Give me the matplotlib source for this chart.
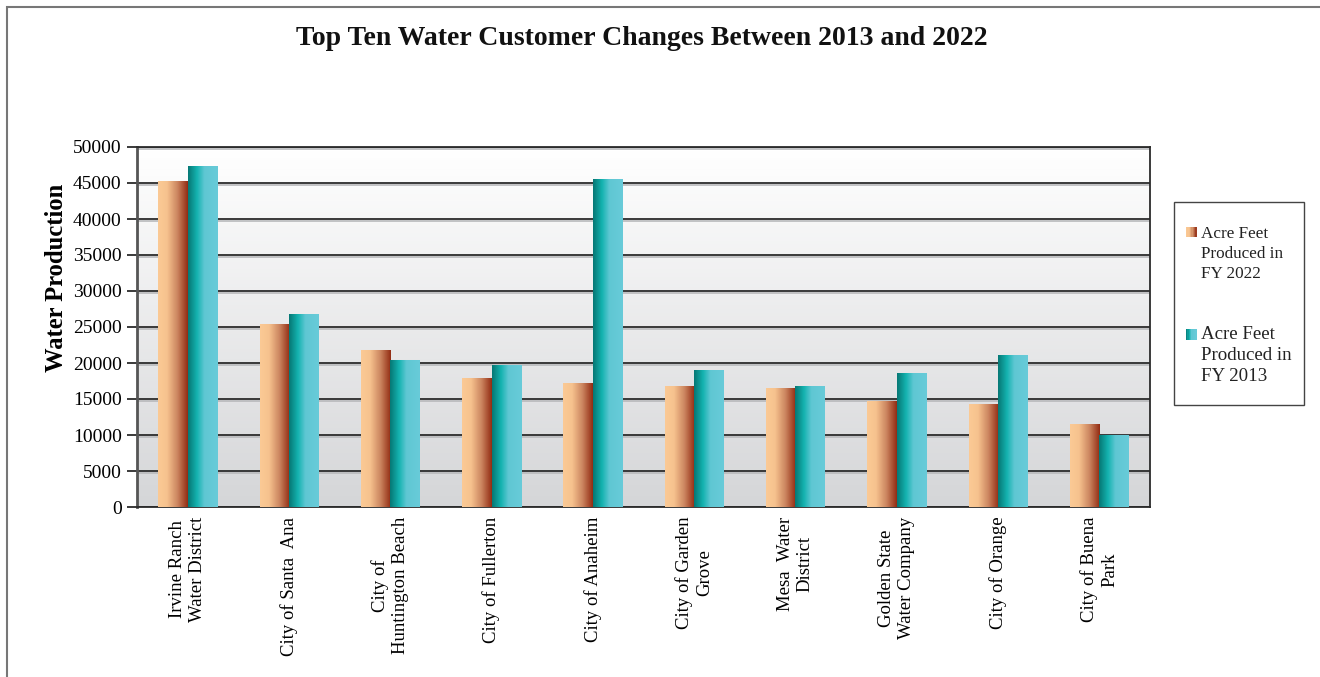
import numpy as np
import matplotlib
matplotlib.use('Agg')
import matplotlib.pyplot as plt
from matplotlib.colors import LinearSegmentedColormap
from matplotlib.patches import Rectangle
from matplotlib.legend_handler import HandlerBase
from matplotlib import transforms

plt.rcParams['font.family'] = ['Liberation Serif', 'DejaVu Serif']

customers = ['Irvine Ranch\nWater District', 'City of Santa  Ana', 'City of\nHuntington Beach',
             'City of Fullerton', 'City of Anaheim', 'City of Garden\nGrove', 'Mesa  Water\nDistrict',
             'Golden State\nWater Company', 'City of Orange', 'City of Buena\nPark']
fy2022 = [45200, 25300, 21700, 17800, 17200, 16800, 16400, 14700, 14200, 11500]
fy2013 = [47300, 26800, 20400, 19600, 45500, 18900, 16800, 18600, 21100, 10000]
series_labels = ['Acre Feet\nProduced in\nFY 2022', 'Acre Feet\nProduced in\nFY 2013']

cmap22 = LinearSegmentedColormap.from_list('c22', [(0, '#fbca95'), (0.3, '#f6c28e'),
                                                   (0.65, '#cc8660'), (1, '#932d14')])
cmap13 = LinearSegmentedColormap.from_list('c13', [(0, '#067875'), (0.3, '#14b3b0'),
                                                   (0.55, '#5fc7d3'), (1, '#68cbd9')])
grad = np.linspace(0, 1, 64).reshape(1, -1)


class GradHandler(HandlerBase):
    def __init__(self, cmap):
        super().__init__()
        self.cmap = cmap

    def create_artists(self, legend, orig_handle, xdescent, ydescent, width, height, fontsize, trans):
        s = 0.62 * fontsize
        y0 = -ydescent + height - s + 1.24 * fontsize
        n = 8
        arts = []
        for i in range(n):
            r = Rectangle((-xdescent + i * s / n, y0), s / n + 0.05, s,
                          facecolor=self.cmap((i + 0.5) / n), edgecolor='none', transform=trans)
            arts.append(r)
        return arts


fig = plt.figure(figsize=(13.2, 6.77), dpi=100)
ax = fig.add_axes([137 / 1320, 1 - 507 / 677, 1013 / 1320, 360 / 677])

x = np.arange(len(customers))
w = 0.29

# background gradient
bg = np.linspace(1, 0, 100).reshape(-1, 1)
bgcmap = LinearSegmentedColormap.from_list('bg', ['#d5d6d8', '#ffffff'])
ax.imshow(bg, cmap=bgcmap, extent=(0, 1, 0, 1), transform=ax.transAxes, aspect='auto', zorder=0)

# gridlines with light shadow below
ticks = list(range(0, 50001, 5000))
blend = transforms.blended_transform_factory(ax.transAxes, ax.transData)
shadow = transforms.offset_copy(blend, fig=fig, x=0, y=-1.6, units='dots')
for t in ticks:
    ax.plot([0, 1], [t, t], color='#b8b9bb', lw=1.2, zorder=1, transform=shadow)
    ax.plot([0, 1], [t, t], color='#2b2b2b', lw=1.3, zorder=1, transform=blend)

bars22 = ax.bar(x - w / 2, fy2022, w, color='none', zorder=2)
bars13 = ax.bar(x + w / 2, fy2013, w, color='none', zorder=2)
for bars, cm in [(bars22, cmap22), (bars13, cmap13)]:
    for b in bars:
        x0, y0 = b.get_x(), b.get_y()
        ax.imshow(grad, cmap=cm, extent=(x0, x0 + b.get_width(), y0, y0 + b.get_height()),
                  aspect='auto', zorder=3, interpolation='bilinear')
ax.set_xlim(-0.5, len(customers) - 0.5)
ax.set_ylim(0, 50000)

ax.set_yticks(ticks)
ax.tick_params(axis='y', labelsize=14, length=7, width=1.3, color='#2b2b2b', direction='out', pad=4)
ax.set_xticks(x)
ax.set_xticklabels(customers, rotation=90, fontsize=13.5, ha='center', va='top', multialignment='center')
ax.tick_params(axis='x', length=0, pad=7)
for sp in ax.spines.values():
    sp.set_color('#2b2b2b')
    sp.set_linewidth(1.3)
ax.spines['left'].set_linewidth(2)
ax.spines['left'].set_color('#555555')

ax.set_ylabel('Water Production', fontsize=17.7, fontweight='bold')
ax.yaxis.set_label_coords(-0.068, 0.636)
fig.text(0.486, 0.943, 'Top Ten Water Customer Changes Between 2013 and 2022',
         ha='center', va='center', fontsize=20, fontweight='bold', color='#111111')

# legend
h1 = Rectangle((0, 0), 1, 1)
h2 = Rectangle((0, 0), 1, 1)
leg = ax.legend([h1, h2], series_labels, handler_map={h1: GradHandler(cmap22), h2: GradHandler(cmap13)},
                loc='upper left', bbox_to_anchor=(1186 / 1320, 1 - 226 / 677), bbox_transform=fig.transFigure,
                frameon=False, fontsize=12.3, labelspacing=2.6, handlelength=0.62, handletextpad=0.25,
                borderpad=0, borderaxespad=0)
for t, fs in zip(leg.get_texts(), [12.3, 13.6]):
    t.set_fontsize(fs)
    t.set_linespacing(1.32)
    t.set_color('#222222')
fig.patches.append(Rectangle((1174 / 1320, 1 - 405 / 677), 130 / 1320, 203 / 677, transform=fig.transFigure,
                             facecolor='white', edgecolor='#444444', lw=1.0, zorder=-1))

# outer frame
fig.patches.append(Rectangle((7 / 1320, -0.1), 1.2, 1.1 - 7 / 677, transform=fig.transFigure,
                             facecolor='none', edgecolor='#777777', lw=1.5, zorder=-1))

fig.savefig('out.png', dpi=100)
